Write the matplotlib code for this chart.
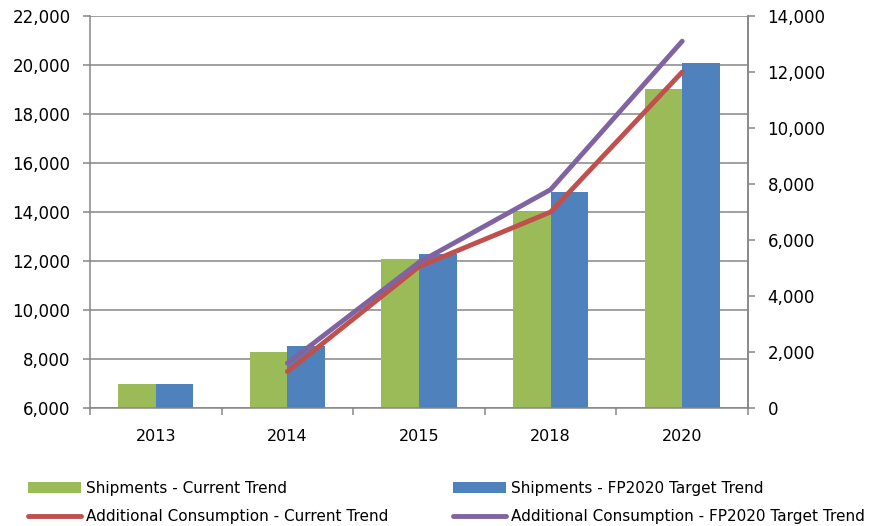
import numpy as np
import matplotlib
matplotlib.use('Agg')
import matplotlib.pyplot as plt
from matplotlib.ticker import FuncFormatter, FixedLocator

years = ['2013', '2014', '2015', '2018', '2020']

# shipments (left axis)
ship_current = [7000, 8300, 12100, 14000, 19000]
ship_target = [7000, 8550, 12300, 14800, 20100]

# additional consumption (right axis), no value for 2013
cons_current = [np.nan, 1300, 5050, 7000, 12000]
cons_target = [np.nan, 1600, 5200, 7800, 13100]

green = '#9BBB59'
blue = '#4F81BD'
red = '#C0504D'
purple = '#8064A2'
grey = '#868686'

plt.rcParams['font.family'] = ['DejaVu Sans']

fig = plt.figure(figsize=(8.8, 5.26), dpi=100)
ax = fig.add_axes([90/880, 118/526, 658/880, 392/526])

x = np.arange(len(years))
w = 0.285
b1 = ax.bar(x - w/2, ship_current, w, color=green, zorder=2)
b2 = ax.bar(x + w/2, ship_target, w, color=blue, zorder=2)

ax.set_xlim(-0.5, len(years) - 0.5)
ax.set_ylim(6000, 22000)
ax.set_yticks(range(6000, 22001, 2000))
ax.yaxis.grid(True, color=grey, linewidth=1.1, zorder=0)
ax.set_axisbelow(True)
fmt = FuncFormatter(lambda v, p: '{:,.0f}'.format(v))
ax.yaxis.set_major_formatter(fmt)

ax.set_xticks(x)
ax.set_xticklabels(years)
ax.xaxis.set_minor_locator(FixedLocator(np.arange(-0.5, len(years), 1.0)))
ax.tick_params(axis='x', which='major', length=0, pad=15, labelsize=11.5)
ax.tick_params(axis='x', which='minor', length=5, color=grey, width=1.1)
ax.tick_params(axis='y', length=5, color=grey, width=1.1, labelsize=12, pad=9)

for s in ['left', 'bottom', 'right']:
    ax.spines[s].set_color(grey)
    ax.spines[s].set_linewidth(1.1)
ax.spines['top'].set_visible(False)

ax2 = ax.twinx()
ax2.set_ylim(0, 14000)
ax2.set_yticks(range(0, 14001, 2000))
ax2.yaxis.set_major_formatter(fmt)
ax2.tick_params(axis='y', length=5, color=grey, width=1.1, labelsize=12, pad=9)
for s in ['left', 'bottom', 'top']:
    ax2.spines[s].set_visible(False)
ax2.spines['right'].set_color(grey)
ax2.spines['right'].set_linewidth(1.1)

l1, = ax2.plot(x, cons_current, color=red, linewidth=3.5, solid_capstyle='round')
l2, = ax2.plot(x, cons_target, color=purple, linewidth=3.5, solid_capstyle='round')

fig.legend([b1, l1, b2, l2],
           ['Shipments - Current Trend', 'Additional Consumption - Current Trend',
            'Shipments - FP2020 Target Trend', 'Additional Consumption - FP2020 Target Trend'],
           ncol=2, loc='lower left', bbox_to_anchor=(28/880, 2/526),
           frameon=False, fontsize=11, handlelength=3.5, handleheight=0.75,
           handletextpad=0.3, columnspacing=4.2, labelspacing=0.85,
           borderpad=0, borderaxespad=0)

fig.savefig('out.png', dpi=100)
